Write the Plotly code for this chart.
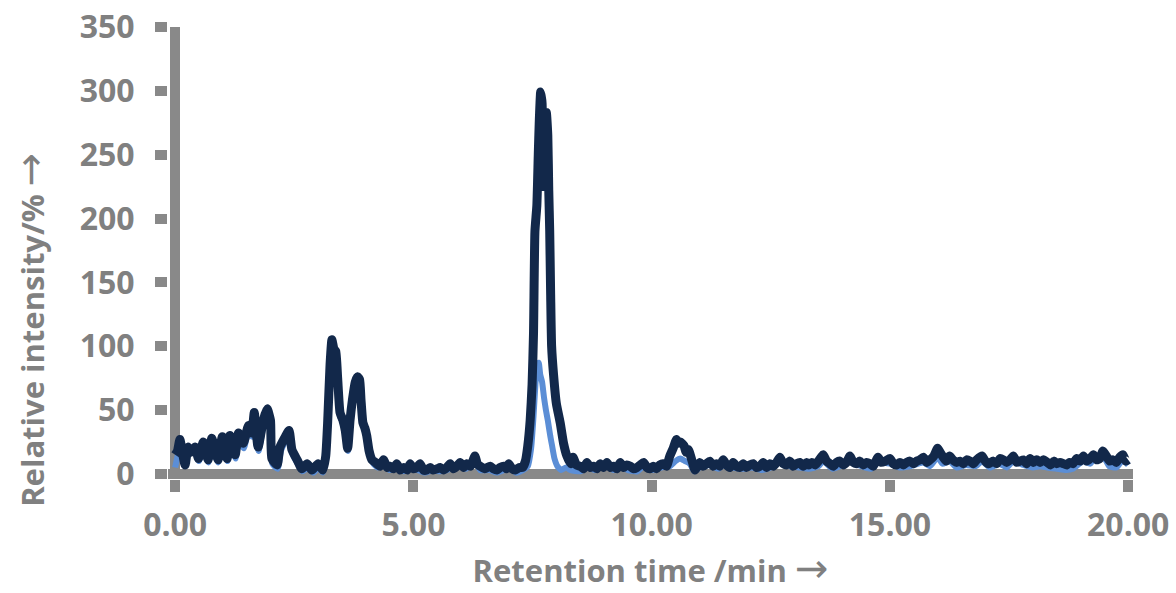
import plotly.graph_objects as go

# ---------------- data ----------------
dark_time = [
    0.0, 0.05, 0.1, 0.15, 0.21, 0.27, 0.33, 0.42, 0.49, 0.59, 0.69, 0.77, 0.84, 0.9, 0.99,
    1.09, 1.15, 1.26, 1.33, 1.43, 1.54, 1.61, 1.66, 1.74, 1.85, 1.93, 2.0, 2.03, 2.14, 2.2,
    2.31, 2.39, 2.45, 2.56, 2.66, 2.77, 2.87, 3.0, 3.1, 3.16, 3.2, 3.25, 3.29, 3.33, 3.37,
    3.41, 3.46, 3.52, 3.57, 3.62, 3.67, 3.72, 3.78, 3.83, 3.87, 3.9, 3.94, 3.98, 4.02, 4.07,
    4.13, 4.2, 4.3, 4.37, 4.45, 4.51, 4.58, 4.65, 4.72, 4.8, 4.87, 4.93, 5.0, 5.07, 5.14,
    5.21, 5.28, 5.35, 5.42, 5.5, 5.56, 5.63, 5.7, 5.77, 5.84, 5.91, 5.98, 6.05, 6.12, 6.2,
    6.29, 6.35, 6.4, 6.5, 6.61, 6.68, 6.75, 6.82, 6.89, 6.95, 7.0, 7.07, 7.14, 7.22, 7.29,
    7.35, 7.4, 7.45, 7.49, 7.52, 7.55, 7.59, 7.62, 7.64, 7.67, 7.7, 7.72, 7.75, 7.79, 7.82,
    7.84, 7.86, 7.88, 7.9, 7.94, 8.0, 8.08, 8.15, 8.22, 8.3, 8.35, 8.42, 8.5, 8.57, 8.64,
    8.71, 8.78, 8.85, 8.92, 8.99, 9.06, 9.13, 9.2, 9.27, 9.34, 9.41, 9.48, 9.55, 9.62, 9.69,
    9.76, 9.83, 9.9, 9.96, 10.03, 10.1, 10.17, 10.24, 10.31, 10.38, 10.45, 10.52, 10.56, 10.6, 10.68,
    10.72, 10.77, 10.84, 10.91, 10.96, 11.01, 11.08, 11.15, 11.22, 11.29, 11.36, 11.43, 11.5, 11.57, 11.64,
    11.71, 11.78, 11.85, 11.92, 11.99, 12.06, 12.13, 12.2, 12.27, 12.34, 12.41, 12.48, 12.55, 12.62, 12.69,
    12.76, 12.83, 12.9, 12.97, 13.04, 13.11, 13.18, 13.25, 13.3, 13.36, 13.43, 13.5, 13.6, 13.67, 13.74,
    13.81, 13.88, 13.95, 14.02, 14.09, 14.16, 14.23, 14.3, 14.37, 14.44, 14.51, 14.58, 14.65, 14.75, 14.82,
    14.9, 15.0, 15.07, 15.14, 15.21, 15.28, 15.35, 15.42, 15.5, 15.56, 15.63, 15.7, 15.77, 15.84, 15.92,
    16.0, 16.05, 16.1, 16.18, 16.25, 16.32, 16.4, 16.47, 16.54, 16.61, 16.68, 16.75, 16.82, 16.93, 17.0,
    17.07, 17.17, 17.24, 17.31, 17.38, 17.45, 17.52, 17.59, 17.66, 17.73, 17.8, 17.87, 17.94, 18.01, 18.08,
    18.15, 18.22, 18.3, 18.37, 18.44, 18.5, 18.57, 18.64, 18.71, 18.77, 18.84, 18.92, 18.99, 19.06, 19.13,
    19.2, 19.27, 19.34, 19.4, 19.47, 19.54, 19.61, 19.68, 19.75, 19.82, 19.89, 19.95, 20.0,
]
dark_intensity = [
    15, 18, 27, 17, 7, 21, 17, 21, 12, 25, 11, 28, 18, 11, 29,
    12, 30, 15, 32, 24, 38, 32, 48, 21, 42, 51, 42, 12, 7, 21,
    29, 34, 19, 11, 4, 8, 3, 8, 3, 14, 40, 85, 105, 98, 96,
    75, 48, 42, 34, 20, 42, 58, 72, 76, 74, 58, 40, 36, 30, 18,
    11, 9, 6, 11, 5, 6, 4, 8, 3, 5, 3, 8, 4, 5, 8,
    3, 3, 5, 3, 4, 5, 3, 5, 8, 4, 6, 9, 5, 8, 6,
    14, 7, 6, 4, 6, 4, 3, 5, 6, 4, 8, 4, 3, 5, 5,
    10, 22, 42, 70, 110, 190, 210, 250, 275, 299, 290, 225, 250, 283, 265,
    222, 190, 140, 100, 78, 55, 40, 24, 14, 8, 13, 7, 6, 4, 9,
    5, 6, 4, 8, 5, 9, 5, 6, 4, 9, 5, 7, 6, 4, 5,
    7, 9, 5, 4, 6, 4, 7, 8, 6, 14, 20, 27, 24, 25, 22,
    17, 19, 11, 3, 6, 9, 6, 8, 10, 6, 8, 6, 11, 7, 5,
    9, 6, 5, 8, 5, 7, 8, 5, 6, 9, 5, 8, 6, 9, 13,
    8, 7, 10, 6, 8, 9, 6, 9, 7, 9, 7, 10, 15, 10, 8,
    6, 9, 10, 7, 9, 14, 9, 8, 10, 7, 9, 8, 6, 13, 9,
    10, 12, 8, 7, 9, 7, 9, 10, 8, 10, 11, 13, 9, 11, 14,
    20, 17, 14, 10, 14, 11, 9, 10, 8, 11, 10, 8, 11, 14, 10,
    8, 10, 8, 12, 11, 9, 11, 14, 9, 10, 11, 8, 12, 9, 11,
    9, 11, 9, 7, 10, 8, 9, 8, 7, 9, 8, 12, 10, 14, 10,
    12, 15, 11, 12, 18, 14, 10, 11, 9, 13, 15, 10, 11,
]

light_time = [
    0.0, 0.1, 0.2, 0.3, 0.42, 0.5, 0.6, 0.7, 0.78, 0.9, 1.0, 1.1, 1.16, 1.27, 1.34,
    1.44, 1.55, 1.62, 1.67, 1.75, 1.86, 1.94, 2.0, 2.04, 2.15, 2.22, 2.32, 2.4, 2.46, 2.57,
    2.67, 2.8, 2.9, 3.0, 3.1, 3.17, 3.22, 3.27, 3.3, 3.34, 3.38, 3.42, 3.47, 3.53, 3.58,
    3.63, 3.68, 3.74, 3.8, 3.85, 3.89, 3.92, 3.96, 4.0, 4.04, 4.1, 4.16, 4.25, 4.35, 4.5,
    4.65, 4.8, 4.95, 5.1, 5.25, 5.4, 5.55, 5.7, 5.8, 5.98, 6.1, 6.29, 6.4, 6.6, 6.75,
    6.9, 7.0, 7.15, 7.3, 7.4, 7.47, 7.52, 7.56, 7.6, 7.63, 7.66, 7.7, 7.74, 7.78, 7.82,
    7.87, 7.91, 7.96, 8.02, 8.1, 8.2, 8.3, 8.5, 8.64, 8.8, 8.92, 9.06, 9.2, 9.34, 9.5,
    9.7, 9.83, 10.0, 10.2, 10.38, 10.5, 10.6, 10.7, 10.8, 10.9, 11.0, 11.22, 11.4, 11.5, 11.7,
    11.9, 12.1, 12.3, 12.5, 12.69, 12.9, 13.1, 13.3, 13.5, 13.6, 13.8, 13.95, 14.16, 14.4, 14.6,
    14.75, 15.0, 15.2, 15.42, 15.7, 15.84, 16.0, 16.1, 16.25, 16.4, 16.6, 16.8, 16.93, 17.1, 17.3,
    17.45, 17.59, 17.8, 18.0, 18.15, 18.3, 18.5, 18.7, 18.84, 19.06, 19.2, 19.27, 19.47, 19.6, 19.75,
    19.89, 20.0,
]
light_intensity = [
    5, 20, 8, 17, 18, 10, 22, 9, 25, 9, 26, 10, 27, 12, 29,
    20, 35, 29, 45, 18, 39, 48, 38, 8, 4, 18, 26, 31, 16, 8,
    2, 5, 1, 5, 1, 12, 45, 90, 100, 94, 92, 70, 44, 40, 30,
    18, 45, 62, 72, 73, 70, 52, 38, 34, 27, 15, 8, 5, 7, 3,
    5, 2, 5, 3, 1, 3, 2, 3, 5, 6, 4, 10, 3, 3, 1,
    3, 5, 1, 3, 6, 20, 45, 70, 85, 87, 78, 72, 60, 50, 42,
    30, 22, 12, 6, 3, 5, 3, 2, 5, 3, 5, 6, 3, 6, 3,
    2, 6, 3, 5, 6, 10, 12, 10, 8, 2, 5, 7, 4, 7, 5,
    4, 5, 3, 5, 9, 6, 5, 4, 6, 10, 4, 6, 10, 6, 4,
    9, 8, 5, 6, 9, 6, 13, 8, 10, 5, 7, 6, 10, 5, 8,
    5, 10, 7, 5, 6, 5, 4, 3, 4, 10, 8, 11, 14, 6, 5,
    11, 7,
]

x_ticks = [0, 5, 10, 15, 20]
x_tick_labels = ["0.00", "5.00", "10.00", "15.00", "20.00"]
y_ticks = [0, 50, 100, 150, 200, 250, 300, 350]

ARROW = "<span style='font-family:DejaVu Sans;font-weight:normal;font-size:40px'>→</span>"
x_title = "Retention time /min " + ARROW
y_title = "Relative intensity/% " + ARROW

# ---------------- styling ----------------
AXIS_GREY = "#898989"
TEXT_GREY = "#808080"
DARK = "#12284a"
LIGHT = "#5b8ed6"
FONT = "Open Sans"
title_font = dict(family=FONT, size=31, color=TEXT_GREY, weight="bold")

fig = go.Figure()
fig.add_trace(go.Scatter(x=light_time, y=light_intensity, mode="lines",
                         line=dict(color=LIGHT, width=6, shape="spline", smoothing=0.5),
                         showlegend=False, hoverinfo="skip"))
fig.add_trace(go.Scatter(x=dark_time, y=dark_intensity, mode="lines",
                         line=dict(color=DARK, width=9, shape="spline", smoothing=0.5),
                         showlegend=False, hoverinfo="skip"))

fig.update_layout(
    width=1176, height=593,
    margin=dict(l=168, r=43, t=27, b=114, autoexpand=False),
    paper_bgcolor="white", plot_bgcolor="white",
    showlegend=False,
)
fig.update_xaxes(
    range=[-0.15, 20.1], showgrid=False, showline=False,
    zeroline=True, zerolinecolor=AXIS_GREY, zerolinewidth=10,
    tickmode="array", tickvals=x_ticks, ticktext=x_tick_labels,
    ticks="outside", ticklen=12, tickwidth=10, tickcolor=AXIS_GREY,
    tickfont=dict(family=FONT, size=32, color=TEXT_GREY, weight="bold"),
    ticklabelstandoff=6,
    title=dict(text=x_title, font=title_font),
)
fig.update_yaxes(
    range=[-4, 350], showgrid=False, showline=False,
    zeroline=True, zerolinecolor=AXIS_GREY, zerolinewidth=10,
    tickmode="array", tickvals=y_ticks,
    ticks="outside", ticklen=12, tickwidth=10, tickcolor=AXIS_GREY,
    tickfont=dict(family=FONT, size=32, color=TEXT_GREY, weight="bold"),
    ticklabelstandoff=14,
)
fig.add_annotation(
    text=y_title, textangle=-90, showarrow=False,
    xref="paper", yref="paper", x=-0.143, y=0.33,
    xanchor="center", yanchor="middle", font=title_font,
)

fig.write_html("out.html")
